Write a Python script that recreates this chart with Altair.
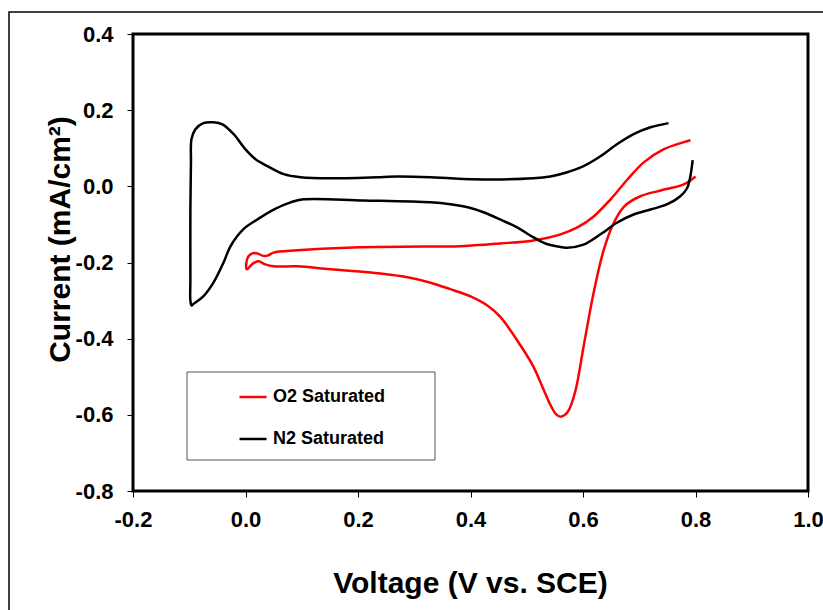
import altair as alt
import pandas as pd

# N2 saturated CV (black) - traced around the loop
n2_v = [0.752, 0.720, 0.690, 0.661, 0.631, 0.601, 0.572, 0.542, 0.512, 0.423, 0.364, 0.329,
        0.270, 0.240, 0.151, 0.098, 0.068, 0.039, 0.018, 0.000, -0.021, -0.041, -0.057, -0.075,
        -0.089, -0.096, -0.097, -0.098, -0.098, -0.098, -0.096, -0.092, -0.075, -0.057, -0.039,
        -0.027, -0.004, 0.021, 0.050, 0.080, 0.103, 0.210, 0.329, 0.364, 0.395, 0.423, 0.453,
        0.483, 0.512, 0.533, 0.555, 0.572, 0.601, 0.631, 0.661, 0.690, 0.720, 0.750, 0.773,
        0.785, 0.790, 0.795]
n2_i = [0.166, 0.155, 0.137, 0.111, 0.079, 0.053, 0.037, 0.026, 0.021, 0.018, 0.021, 0.024,
        0.026, 0.024, 0.021, 0.024, 0.032, 0.053, 0.071, 0.097, 0.137, 0.163, 0.168, 0.166,
        0.150, 0.124, 0.063, -0.068, -0.245, -0.300, -0.313, -0.308, -0.289, -0.253, -0.200,
        -0.158, -0.113, -0.087, -0.061, -0.042, -0.034, -0.037, -0.042, -0.047, -0.055, -0.068,
        -0.087, -0.108, -0.134, -0.150, -0.158, -0.161, -0.153, -0.126, -0.095, -0.074, -0.061,
        -0.047, -0.026, -0.005, 0.020, 0.069]

# O2 saturated CV (red)
o2_v = [0.791, 0.779, 0.743, 0.708, 0.679, 0.649, 0.619, 0.590, 0.560, 0.512, 0.453, 0.364,
        0.329, 0.181, 0.092, 0.050, 0.039, 0.030, 0.021, 0.012, 0.004, 0.002, 0.013, 0.023,
        0.035, 0.050, 0.092, 0.151, 0.240, 0.288, 0.329, 0.364, 0.400, 0.430, 0.453, 0.489, 0.512,
        0.530, 0.542, 0.552, 0.560, 0.568, 0.575, 0.587, 0.601, 0.619, 0.637, 0.655, 0.673,
        0.702, 0.738, 0.779, 0.800]
o2_i = [0.121, 0.116, 0.097, 0.063, 0.018, -0.034, -0.079, -0.108, -0.126, -0.142, -0.150, -0.158,
        -0.158, -0.161, -0.168, -0.174, -0.182, -0.182, -0.176, -0.176, -0.187, -0.218, -0.203, -0.197,
        -0.205, -0.210, -0.210, -0.218, -0.229, -0.239, -0.253, -0.270, -0.289, -0.313, -0.343, -0.418, -0.474,
        -0.534, -0.574, -0.598, -0.605, -0.600, -0.587, -0.534, -0.421, -0.279, -0.166, -0.095, -0.053,
        -0.026, -0.011, 0.005, 0.026]

series_names = ["O2 Saturated", "N2 Saturated"]
series_colors = ["#FF0000", "#000000"]
x_ticks = [-0.2, 0.0, 0.2, 0.4, 0.6, 0.8, 1.0]
y_ticks = [-0.8, -0.6, -0.4, -0.2, 0.0, 0.2, 0.4]

rows = []
for k, (v, i) in enumerate(zip(o2_v, o2_i)):
    rows.append({"V": v, "I": i, "series": series_names[0], "idx": k})
for k, (v, i) in enumerate(zip(n2_v, n2_i)):
    rows.append({"V": v, "I": i, "series": series_names[1], "idx": k})
df = pd.DataFrame(rows)

FONT = "Liberation Sans"
label_expr = "datum.value < -0.00001 ? '-' + format(-datum.value, '.1f') : format(abs(datum.value), '.1f')"

one = pd.DataFrame({"a": [0]})

outer = alt.Chart(one).mark_rect(fill="white", fillOpacity=0, stroke="black", strokeWidth=1.5).encode(
    x=alt.value(-124), x2=alt.value(900), y=alt.value(-22), y2=alt.value(700)
)

legend_box = alt.Chart(one).mark_rect(fill="white", stroke="#555555", strokeWidth=1).encode(
    x=alt.value(54), x2=alt.value(302), y=alt.value(338), y2=alt.value(426)
)

lines = alt.Chart(df).mark_line(strokeWidth=2.5, interpolate="catmull-rom").encode(
    x=alt.X("V:Q",
            scale=alt.Scale(domain=[-0.2, 1.0], nice=False, zero=False),
            axis=alt.Axis(title="Voltage (V vs. SCE)", values=x_ticks, labelExpr=label_expr,
                          labelFlush=False, labelOverlap=False,
                          titleX=337, titleY=92, titleBaseline="middle", titleAlign="center")),
    y=alt.Y("I:Q",
            scale=alt.Scale(domain=[-0.8, 0.4], nice=False, zero=False),
            axis=alt.Axis(title="Current (mA/cm²)", values=y_ticks, labelExpr=label_expr,
                          labelFlush=False, labelOverlap=False,
                          titleX=-73, titleY=205, titleBaseline="middle", titleAlign="center",
                          titleAngle=270)),
    color=alt.Color("series:N",
                    scale=alt.Scale(domain=series_names, range=series_colors),
                    sort=series_names,
                    legend=alt.Legend(title=None, orient="none", legendX=105, legendY=348,
                                      symbolType="stroke", symbolSize=729, symbolStrokeWidth=2.5,
                                      labelFont=FONT, labelFontSize=18, labelFontWeight="bold",
                                      labelColor="black", labelOffset=5, rowPadding=18,
                                      padding=0)),
    order="idx:Q",
    detail="series:N",
)

chart = alt.layer(outer, legend_box, lines).properties(
    width=675, height=457,
    autosize=alt.AutoSizeParams(type="none"),
    padding={"left": 133, "top": 34, "right": 15, "bottom": 119},
    background="white",
).configure_view(
    stroke="black", strokeWidth=3
).configure_axis(
    grid=False, domain=False,
    tickColor="black", tickWidth=1, tickSize=6,
    labelFont=FONT, labelFontSize=22, labelFontWeight="bold", labelColor="black",
    titleFont=FONT, titleFontSize=30, titleFontWeight="bold", titleColor="black",
).configure_axisY(labelPadding=14).configure_axisX(labelPadding=12)

chart.save("out.html", embed_options={"renderer": "svg", "actions": False})
